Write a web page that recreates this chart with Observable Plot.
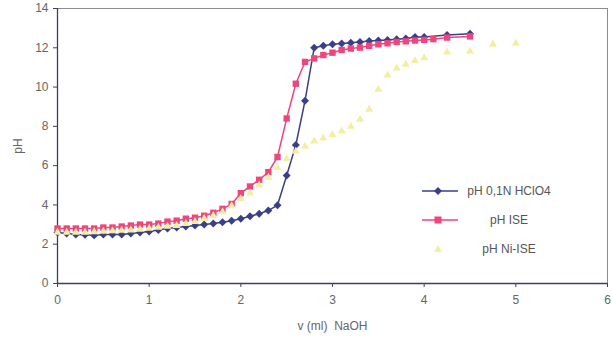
<!DOCTYPE html>
<html><head><meta charset="utf-8">
<script src="https://cdn.jsdelivr.net/npm/d3@7"></script>
<script src="https://cdn.jsdelivr.net/npm/@observablehq/plot@0.6"></script>
<style>
body{margin:0;background:#fff;font-family:"Liberation Sans",Arial,sans-serif;}
#wrap{position:relative;width:612px;height:341px;}
#legend{position:absolute;left:420px;top:176px;font-size:12px;color:#555;}
.row{display:flex;align-items:center;height:29px;}
.row svg{flex:none;}
.row span{display:inline-block;width:98px;text-align:center;}
</style>
</head><body>
<div id="wrap"><div id="chart"></div><div id="legend"></div></div>
<script>
const seriesNames = ["pH 0,1N HClO4", "pH ISE", "pH Ni-ISE"];
const colors = ["#3b3f8a", "#f0457c", "#f3eea2"];
const xTicks = [0, 1, 2, 3, 4, 5, 6];
const yTicks = [0, 2, 4, 6, 8, 10, 12, 14];

const vA = [0,0.1,0.2,0.3,0.4,0.5,0.6,0.7,0.8,0.9,1.0,1.1,1.2,1.3,1.4,1.5,1.6,1.7,1.8,1.9,2.0,2.1,2.2,2.3,2.4,2.5,2.6,2.7,2.8,2.9,3.0,3.1,3.2,3.3,3.4,3.5,3.6,3.7,3.8,3.9,4.0,4.25,4.5];
const pHHClO4 = [2.6,2.55,2.5,2.48,2.45,2.5,2.5,2.5,2.55,2.6,2.65,2.72,2.8,2.85,2.9,2.95,3.0,3.05,3.12,3.2,3.3,3.42,3.55,3.72,3.98,5.5,7.05,9.3,12.0,12.1,12.18,12.22,12.26,12.3,12.34,12.37,12.4,12.43,12.47,12.55,12.55,12.65,12.72];

const vB = [0,0.1,0.2,0.3,0.4,0.5,0.6,0.7,0.8,0.9,1.0,1.1,1.2,1.3,1.4,1.5,1.6,1.7,1.8,1.9,2.0,2.1,2.2,2.3,2.4,2.5,2.6,2.7,2.8,2.9,3.0,3.1,3.2,3.3,3.4,3.5,3.6,3.7,3.8,3.9,4.0,4.1,4.25,4.5];
const pHISE = [2.8,2.8,2.8,2.8,2.8,2.85,2.85,2.9,2.95,3.0,3.0,3.05,3.15,3.2,3.3,3.35,3.45,3.6,3.8,4.05,4.6,4.94,5.28,5.67,6.44,8.4,10.17,11.28,11.46,11.63,11.75,11.89,11.96,12.01,12.1,12.18,12.23,12.3,12.33,12.37,12.4,12.44,12.52,12.58];

const vC = [0,0.1,0.2,0.3,0.4,0.5,0.6,0.7,0.8,0.9,1.0,1.1,1.2,1.3,1.4,1.5,1.6,1.7,1.8,1.9,2.0,2.1,2.2,2.3,2.4,2.5,2.6,2.7,2.8,2.9,3.0,3.1,3.2,3.3,3.4,3.5,3.6,3.7,3.8,3.9,4.0,4.25,4.5,4.75,5.0];
const pHNiISE = [2.6,2.6,2.6,2.6,2.62,2.65,2.68,2.7,2.72,2.75,2.8,2.85,2.9,2.95,3.05,3.15,3.3,3.45,3.65,3.95,4.3,4.6,5.0,5.4,5.9,6.35,6.73,6.98,7.24,7.4,7.58,7.75,8.0,8.35,8.86,9.88,10.6,10.96,11.15,11.35,11.49,11.78,11.82,12.17,12.22];

const mk = (xs, ys) => xs.map((v, i) => ({v, pH: ys[i]}));
const dA = mk(vA, pHHClO4), dB = mk(vB, pHISE), dC = mk(vC, pHNiISE);

const font = "Liberation Sans, Arial, sans-serif";
const chart = Plot.plot({
  width: 612, height: 341,
  marginLeft: 57, marginRight: 5, marginTop: 8, marginBottom: 58,
  style: {fontFamily: font, fontSize: "12px", color: "#666", background: "#fff"},
  x: {domain: [0, 6]},
  y: {domain: [0, 14]},
  marks: [
    Plot.frame({stroke: "#8a8aa0", strokeWidth: 1}),
    Plot.axisX({ticks: xTicks, tickFormat: "d", tickSize: 4, tickPadding: 8, fontSize: 12, label: "v (ml)  NaOH", labelAnchor: "center", labelOffset: 46, labelArrow: "none", stroke: "#444"}),
    Plot.axisY({ticks: yTicks, tickFormat: "d", tickSize: 4, tickPadding: 5, fontSize: 12, label: "pH", labelAnchor: "center", labelOffset: 44, labelArrow: "none", stroke: "#444"}),
    Plot.ruleX([0], {stroke: "#3b3f6a", strokeWidth: 1.3}),
    Plot.ruleY([0], {stroke: "#3b3f6a", strokeWidth: 1.3}),
    Plot.line(dA, {x: "v", y: "pH", stroke: colors[0], strokeWidth: 1.5}),
    Plot.dot(dA, {x: "v", y: "pH", symbol: "diamond2", fill: colors[0], r: 3.6}),
    Plot.line(dB, {x: "v", y: "pH", stroke: colors[1], strokeWidth: 1.5}),
    Plot.dot(dB, {x: "v", y: "pH", symbol: "square", fill: colors[1], r: 3.6}),
    Plot.dot(dC, {x: "v", y: "pH", symbol: "triangle", fill: colors[2], r: 3.0})
  ]
});
document.getElementById("chart").appendChild(chart);

const sym = ["diamond", "square", "triangle"];
const lines = [true, true, false];
const leg = document.getElementById("legend");
seriesNames.forEach((name, i) => {
  const row = document.createElement("div");
  row.className = "row";
  let shape = "";
  if (sym[i] === "diamond") shape = `<path d="M18,10 l4,4 l-4,4 l-4,-4z" fill="${colors[i]}"/>`;
  else if (sym[i] === "square") shape = `<rect x="14.5" y="10.5" width="7" height="7" fill="${colors[i]}"/>`;
  else shape = `<path d="M18,10 l4,7 l-8,0z" fill="${colors[i]}"/>`;
  row.innerHTML = `<svg width="40" height="28">${lines[i] ? `<line x1="2" x2="38" y1="14" y2="14" stroke="${colors[i]}" stroke-width="1.5"/>` : ""}${shape}</svg><span>${name}</span>`;
  leg.appendChild(row);
});
</script>
</body></html>
